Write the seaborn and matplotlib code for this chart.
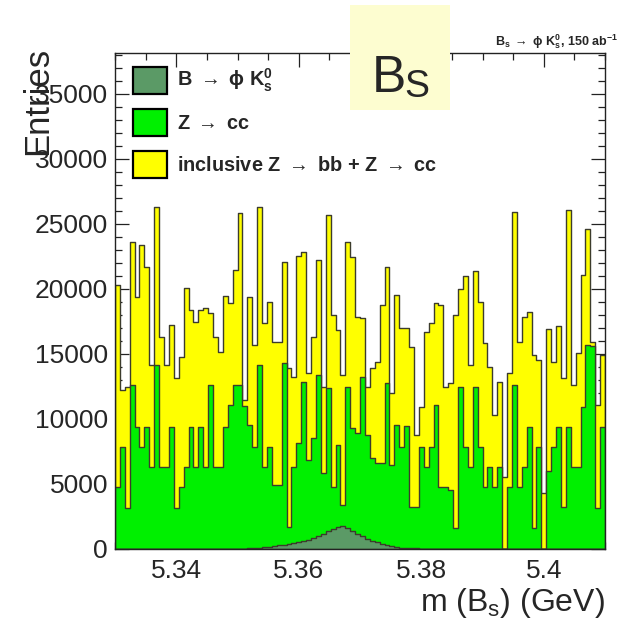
import numpy as np
import pandas as pd
import matplotlib
matplotlib.use("Agg")
import matplotlib.pyplot as plt
from matplotlib.patches import Patch, Rectangle
from matplotlib.ticker import MultipleLocator
import seaborn as sns

# ---------------- data (stacked levels) ----------------
x_min, x_max, n_bins = 5.33, 5.41, 100

# top of the full stack: inclusive Z->bb + Z->cc (yellow)
total_top = [20300, 12230, 12490, 23640, 19410, 23380, 21720, 14150, 26280, 16330,
             14150, 17230, 13130, 14790, 20050, 18380, 17490, 18380, 18510, 18130,
             16330, 15180, 19460, 18900, 21460, 25870, 11460, 19410, 15690, 26280,
             17410, 19020, 15950, 15950, 22100, 13900, 13260, 22540, 22870, 13510,
             16330, 22230, 12490, 25690, 18000, 16850, 13380, 23640, 22490, 17870,
             17740, 12490, 13900, 14410, 18770, 21670, 12000, 19540, 17000, 17000,
             15500, 8770, 10950, 16720, 17360, 18900, 18770, 12490, 12740, 18000,
             20000, 21000, 14150, 21400, 19000, 15820, 14020, 10310, 12870, 5560,
             13560, 25950, 15950, 17820, 18260, 14920, 14540, 4300, 16900, 14410,
             17150, 13130, 26080, 12610, 15100, 21080, 24590, 15900, 11080, 14920]

# top of Z->cc (green), stacked on the signal
zcc_top = [4800, 7870, 3130, 12610, 9410, 7870, 9410, 6330, 14150, 6330,
           6330, 9410, 3130, 4800, 6330, 9410, 6330, 9410, 6330, 12610,
           6330, 6330, 9410, 11080, 12610, 12610, 11000, 9540, 7870, 14150,
           6330, 7870, 4920, 4920, 14280, 1720, 6330, 8130, 12870, 6850,
           8510, 13380, 5820, 12360, 4800, 8000, 3380, 12490, 9280, 8900,
           13260, 8770, 6970, 6590, 6590, 12740, 6460, 9540, 7870, 9460,
           3260, 3260, 7870, 6330, 7870, 11080, 4800, 4800, 4540, 1590,
           12490, 7870, 6330, 12490, 7870, 4800, 6330, 4800, 6330, 0,
           4800, 12610, 4800, 6330, 9410, 1590, 7870, 0, 6000, 7870,
           9410, 3260, 9410, 6330, 6330, 10950, 15690, 15600, 3130, 9410]

# signal B -> phi K0s (dark green), bottom of the stack
signal = [0] * 24 + [15, 25, 35, 50, 70, 95, 130, 170, 220, 280,
                     340, 400, 460, 540, 620, 720, 850, 1000, 1180, 1380,
                     1560, 1700, 1740, 1640, 1420, 1180, 980, 800, 640, 500,
                     380, 280, 200, 150, 110, 80, 60, 45, 32, 22,
                     15, 10, 5] + [0] * 33

x_ticks = [5.34, 5.36, 5.38, 5.40]
x_tick_labels = ["5.34", "5.36", "5.38", "5.4"]
y_ticks = [0, 5000, 10000, 15000, 20000, 25000, 30000, 35000]

labels = [r"B $\rightarrow$ $\mathbf{\phi}$ K$^{\mathbf{0}}_{\mathbf{s}}$",
          r"Z $\rightarrow$ cc",
          r"inclusive Z $\rightarrow$ bb + Z $\rightarrow$ cc"]
colors = ["#5b9a66", "#00f000", "#ffff00"]
edge_col = "#3c3c2c"

# ---------------- figure ----------------
sns.set_style("ticks")
plt.rcParams["font.family"] = ["Liberation Sans", "DejaVu Sans"]
plt.rcParams["mathtext.fontset"] = "custom"
plt.rcParams["mathtext.rm"] = "Liberation Sans"
plt.rcParams["mathtext.bf"] = "Liberation Sans:bold"
plt.rcParams["mathtext.it"] = "Liberation Sans:italic"

fig = plt.figure(figsize=(6.24, 6.27), dpi=100)
ax = fig.add_axes([115 / 624, 1 - 549 / 627, 490 / 624, 496 / 627])

edges = np.linspace(x_min, x_max, n_bins + 1).tolist()
centers = [0.5 * (edges[i] + edges[i + 1]) for i in range(n_bins)]
df = pd.DataFrame({"m": centers, "total": total_top, "zcc": zcc_top, "sig": signal})

for col, c in [("total", colors[2]), ("zcc", colors[1]), ("sig", colors[0])]:
    sns.histplot(data=df, x="m", weights=col, bins=edges, element="step",
                 fill=True, color=c, alpha=1, edgecolor=edge_col, linewidth=1.0, ax=ax)

ax.set_xlim(x_min, x_max)
ax.set_ylim(0, 38150)
ax.set_xticks(x_ticks)
ax.set_xticklabels(x_tick_labels)
ax.set_yticks(y_ticks)
ax.xaxis.set_minor_locator(MultipleLocator(0.005))
ax.yaxis.set_minor_locator(MultipleLocator(1000))
ax.tick_params(which="both", direction="in", top=True, right=True, color="#222222", width=0.9)
ax.tick_params(which="major", length=10, labelsize=19, pad=5)
ax.tick_params(which="minor", length=5)
ax.tick_params(axis="x", which="major", pad=7)
for s in ax.spines.values():
    s.set_linewidth(1.0)
    s.set_color("#222222")
ax.set_xlabel("")
ax.set_ylabel("")

handles = [Patch(facecolor=c, edgecolor="black", linewidth=1.6) for c in colors]
leg = ax.legend(handles, labels, loc="upper left", bbox_to_anchor=(0.0204, 0.988),
                borderaxespad=0.0, frameon=False, prop={"weight": "bold", "size": 14.3},
                handlelength=1.7, handleheight=1.7, labelspacing=0.75, handletextpad=0.5)

# axis titles (ROOT style, placed as in the picture)
fig.text(0.06, 0.925, "Entries", rotation=90, ha="center", va="top", fontsize=25)
fig.text(0.97, 0.025, r"m (B$_\mathregular{s}$) (GeV)", ha="right", va="baseline", fontsize=23)

# top-right annotation
fig.text(0.99, 0.927, r"B$_\mathbf{s}$ $\rightarrow$ $\mathbf{\phi}$ K$^{\mathbf{0}}_{\mathbf{s}}$, 150 ab$^{\mathbf{-1}}$",
         ha="right", va="baseline", fontsize=9.0, fontweight="bold")

# yellow sticker with "Bs"
fig.add_artist(Rectangle((350 / 624, 1 - 110 / 627), 100 / 624, 105 / 627,
                         transform=fig.transFigure, facecolor="#fdfdd0", edgecolor="none", zorder=5))
fig.text(372 / 624, 1 - 92 / 627, "B", fontsize=37, ha="left", va="baseline", zorder=6)
fig.text(404 / 624, 1 - 97 / 627, "S", fontsize=27, ha="left", va="baseline", zorder=6)

fig.savefig("out.png", dpi=100)
